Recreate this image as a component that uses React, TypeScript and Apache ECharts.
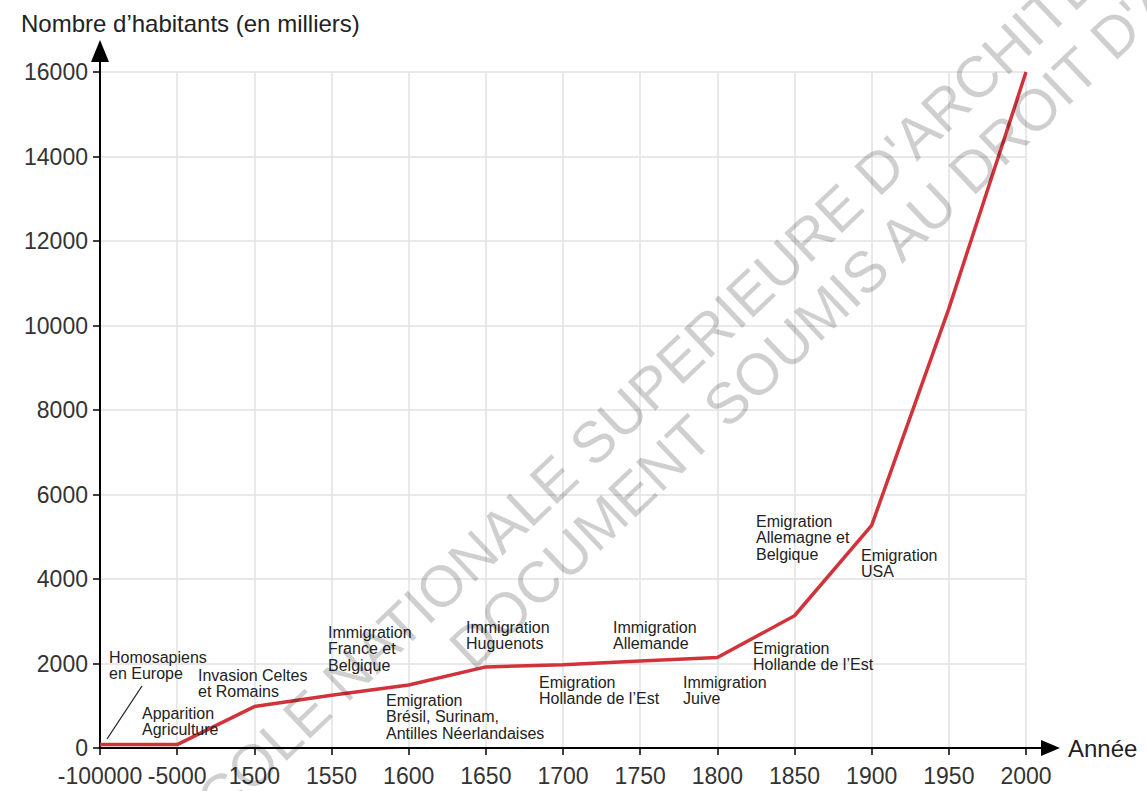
import React, { useEffect, useRef } from "react";
import * as echarts from "echarts";

const categories = ["-100000", "-5000", "1500", "1550", "1600", "1650", "1700", "1750", "1800", "1850", "1900", "1950", "2000"];
const population = [80, 80, 980, 1250, 1490, 1920, 1970, 2060, 2140, 3130, 5270, 10400, 16000];
const yTicks = [0, 2000, 4000, 6000, 8000, 10000, 12000, 14000, 16000];

const annotationTexts = [
  "Homosapiens\nen Europe",
  "Apparition\nAgriculture",
  "Invasion Celtes\net Romains",
  "Immigration\nFrance et\nBelgique",
  "Emigration\nBrésil, Surinam,\nAntilles Néerlandaises",
  "Immigration\nHuguenots",
  "Emigration\nHollande de l’Est",
  "Immigration\nAllemande",
  "Immigration\nJuive",
  "Emigration\nHollande de l’Est",
  "Emigration\nAllemagne et\nBelgique",
  "Emigration\nUSA",
];
const annotationPos: [number, number][] = [
  [109, 649], [142, 705], [198, 667], [328, 624], [386, 692], [466, 619],
  [539, 674], [613, 619], [683, 674], [753, 640], [756, 513], [861, 547],
];

const FONT = "'Liberation Sans', Arial, Helvetica, sans-serif";

export default function App() {
  const ref = useRef<HTMLDivElement>(null);
  useEffect(() => {
    if (!ref.current) return;
    const chart = echarts.init(ref.current, null, { renderer: "svg" });
    const gridLeft = 100, gridRight = 121, gridTop = 72, gridBottom = 43;
    const W = 1147, H = 791;
    const axisY = H - gridBottom;
    const axisXEnd = W - gridRight;

    const annotations = annotationTexts.map((t, i) => ({
      type: "text",
      x: annotationPos[i][0],
      y: annotationPos[i][1],
      z: 50,
      style: {
        text: t,
        fontSize: 16,
        lineHeight: 16.5,
        fontFamily: FONT,
        fill: "#222",
        align: "left",
        verticalAlign: "top",
      },
    }));

    chart.setOption({
      animation: false,
      backgroundColor: "#fff",
      title: {
        text: "Nombre d’habitants (en milliers)",
        left: 16,
        top: 6,
        textStyle: { fontSize: 24, fontWeight: "normal", color: "#222", fontFamily: FONT },
      },
      grid: { left: gridLeft, right: gridRight, top: gridTop, bottom: gridBottom, containLabel: false },
      xAxis: {
        type: "category",
        data: categories,
        boundaryGap: false,
        axisLine: { show: true, lineStyle: { color: "#000", width: 2 } },
        axisTick: { show: true, length: 7, lineStyle: { color: "#000", width: 1.5 }, interval: 0 },
        axisLabel: { interval: 0, margin: 16, fontSize: 23, color: "#333", fontFamily: FONT, hideOverlap: false },
        splitLine: { show: true, lineStyle: { color: "#e2e2e2", width: 1.5 } },
      },
      yAxis: {
        type: "value",
        min: yTicks[0],
        max: yTicks[yTicks.length - 1],
        interval: 2000,
        axisLine: { show: true, lineStyle: { color: "#000", width: 2 } },
        axisTick: { show: true, length: 7, lineStyle: { color: "#000", width: 1.5 } },
        axisLabel: { margin: 12, fontSize: 23, color: "#333", fontFamily: FONT, formatter: (v: number) => String(v) },
        splitLine: { show: true, lineStyle: { color: "#e2e2e2", width: 1.5 } },
      },
      series: [
        {
          type: "line",
          data: population,
          symbol: "none",
          lineStyle: { color: "#d0343a", width: 3.5 },
          z: 10,
        },
      ],
      graphic: [
        { type: "line", shape: { x1: gridLeft, y1: gridTop, x2: gridLeft, y2: 56 }, style: { stroke: "#000", lineWidth: 2 }, z: 20 },
        { type: "polygon", shape: { points: [[gridLeft, 40], [gridLeft - 9, 62], [gridLeft + 9, 62]] }, style: { fill: "#000" }, z: 20 },
        { type: "line", shape: { x1: axisXEnd, y1: axisY, x2: 1045, y2: axisY }, style: { stroke: "#000", lineWidth: 2 }, z: 20 },
        { type: "polygon", shape: { points: [[1060, axisY], [1041, axisY - 8], [1041, axisY + 8]] }, style: { fill: "#000" }, z: 20 },
        {
          type: "text", x: 1068, y: axisY, z: 20,
          style: { text: "Année", fontSize: 24, fontFamily: FONT, fill: "#222", align: "left", verticalAlign: "middle" },
        },
        { type: "line", shape: { x1: 107, y1: 739, x2: 142, y2: 686 }, style: { stroke: "#222", lineWidth: 1.3 }, z: 20 },
        ...annotations,
        {
          type: "text", x: 705, y: 335, rotation: 0.76, z: 100, silent: true,
          style: { text: "ECOLE NATIONALE SUPERIEURE D'ARCHITECTURE", fontSize: 58, fontFamily: FONT, fill: "rgba(0,0,0,0.19)", align: "center", verticalAlign: "middle" },
        },
        {
          type: "text", x: 885, y: 252, rotation: 0.76, z: 100, silent: true,
          style: { text: "DOCUMENT SOUMIS AU DROIT D'AUTEUR", fontSize: 58, fontFamily: FONT, fill: "rgba(0,0,0,0.19)", align: "center", verticalAlign: "middle" },
        },
      ],
    });
    return () => chart.dispose();
  }, []);
  return <div ref={ref} style={{ position: "absolute", left: 0, top: 0, width: 1147, height: 791 }} />;
}
